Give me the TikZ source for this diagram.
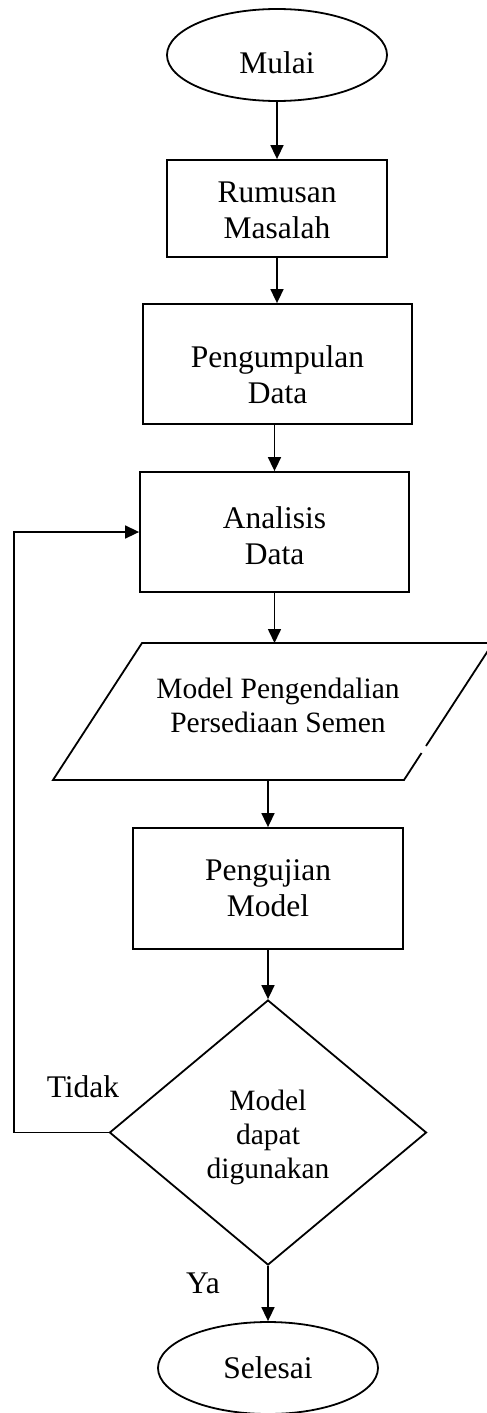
\documentclass[tikz,border=0pt]{standalone}
\usepackage{fontspec}
\setmainfont{Liberation Serif}
\usetikzlibrary{shapes.geometric,arrows.meta}
\begin{document}
\begin{tikzpicture}[x=1pt,y=-1pt,
  every node/.style={font=\fontsize{31.5pt}{36pt}\selectfont, inner sep=0pt, align=center},
  small/.style={font=\fontsize{29.5pt}{34pt}\selectfont},
  line/.style={line width=1.8pt},
  arr/.style={line width=1.6pt, -{Triangle[length=14pt,width=13pt]}},
  term/.style={ellipse, draw, line width=1.8pt, minimum width=220pt, minimum height=92pt},
  proc/.style={rectangle, draw, line width=1.8pt},
  dec/.style={diamond, draw, line width=1.8pt, minimum width=317pt, minimum height=265pt}]
\useasboundingbox (0,0) rectangle (487,1413);
\node[term] (mulai) at (277,55) {};
\node (mulaiT) at (277,63) {Mulai};
\node[proc, minimum width=220pt, minimum height=97pt] (rumusan) at (277,208.5) {};
\node (rumusanT) at (277,210.5) {Rumusan\\Masalah};
\node[proc, minimum width=269pt, minimum height=120pt] (pengumpulan) at (277.5,364) {};
\node (pengumpulanT) at (277.5,375) {Pengumpulan\\Data};
\node[proc, minimum width=269pt, minimum height=120pt] (analisis) at (274.5,532) {};
\node (analisisT) at (274.5,536) {Analisis\\Data};
% parallelogram (with the small break seen in the right side)
\coordinate (pTL) at (142,643);
\coordinate (pTR) at (493,643);
\coordinate (pBR) at (404,780);
\coordinate (pBL) at (53,780);
\coordinate (gapA) at (426,746);
\coordinate (gapB) at (421.5,753);
\draw[line, line join=miter] (gapB) -- (pBR) -- (pBL) -- (pTL) -- (pTR) -- (gapA);
\node[small] (model) at (278,705) {Model Pengendalian\\Persediaan Semen};
\coordinate (pin) at (274.5,643);
\coordinate (pout) at (268,780);
\node[proc, minimum width=270pt, minimum height=121pt] (pengujian) at (268,888.5) {Pengujian\\Model};
\node[dec] (keputusan) at (268,1132.5) {};
\node[small] (keputusanT) at (268,1137) {Model\\dapat\\digunakan};
\node[term] (selesai) at (268,1368) {Selesai};
\node (tidak) at (83,1087) {Tidak};
\node (ya) at (203,1283) {Ya};
\coordinate (fb) at (14,1132.5);
% connectors
\draw[arr] (mulai.south) -- (rumusan.north);
\draw[arr] (rumusan.south) -- (pengumpulan.north -| rumusan.south);
\draw[arr] (pengumpulan.south -| analisis.north) -- (analisis.north);
\draw[arr] (analisis.south) -- (pin);
\draw[arr] (pout) -- (pengujian.north);
\draw[arr] (pengujian.south) -- (keputusan.north);
\draw[arr] (keputusan.south) -- (selesai.north);
\draw[arr] (keputusan.west) -- (fb) |- (analisis.west);
\end{tikzpicture}
\end{document}
